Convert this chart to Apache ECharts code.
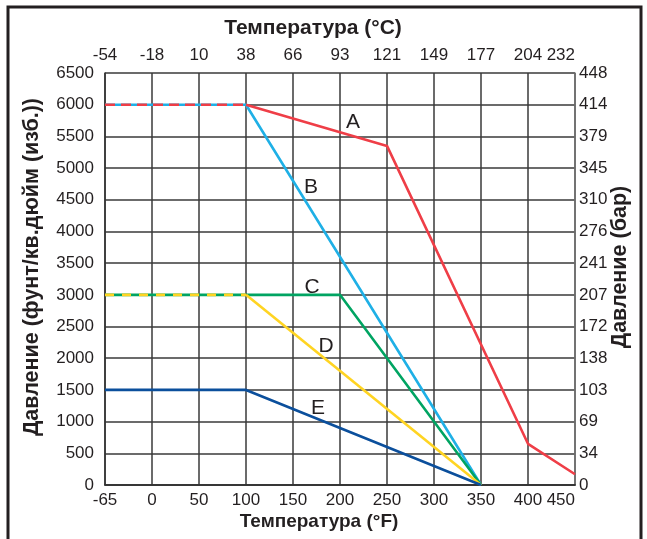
<!DOCTYPE html>
<html>
<head>
<meta charset="utf-8">
<script src="https://cdn.jsdelivr.net/npm/echarts@6/dist/echarts.min.js"></script>
<style>
html,body{margin:0;padding:0;background:#fff;}
#chart{width:647px;height:539px;}
</style>
</head>
<body>
<div id="chart"></div>
<script>
// Tick labels
const fahrenheit = ['-65','0','50','100','150','200','250','300','350','400','450'];
const celsius = ['-54','-18','10','38','66','93','121','149','177','204','232'];
const barLabels = ['0','34','69','103','138','172','207','241','276','310','345','379','414','448'];

// Series values: [°F category, psi]
const seriesA = [['-65',6000],['100',6000],['250',5350],['400',650],['450',170]];
const seriesB = [['-65',6000],['100',6000],['350',0]];
const seriesC = [['-65',3000],['200',3000],['350',0]];
const seriesD = [['-65',3000],['100',3000],['350',0]];
const seriesE = [['-65',1500],['100',1500],['350',0]];
const curveNames = ['A','B','C','D','E'];

const colors = {A:'#ef3e47', B:'#1fb0e6', C:'#00a462', D:'#ffd422', E:'#0b4f9c'};
const txt = '#231f20';
const font = 'Liberation Sans, Arial, sans-serif';

function lineSeries(name, data, color, type, z){
  return {
    name:name, type:'line', data:data, xAxisIndex:0, yAxisIndex:0,
    symbol:'none', showSymbol:false, animation:false,
    lineStyle:{color:color, width:2.6, type:type||'solid'},
    emphasis:{disabled:true}, z:z||3
  };
}

const chart = echarts.init(document.getElementById('chart'), null, {renderer:'canvas'});
const option = {
  animation:false,
  grid:{left:105, right:72, top:73, bottom:54, containLabel:false},
  xAxis:[
    {type:'category', data:fahrenheit, boundaryGap:false, position:'bottom',
     axisLine:{show:true, lineStyle:{color:'#333', width:1.5}}, axisTick:{show:false},
     axisLabel:{fontSize:17, color:txt, fontFamily:font, margin:7, alignMaxLabel:'right'},
     splitLine:{show:true, lineStyle:{color:'#3a3a3a', width:1.5}}},
    {type:'category', data:celsius, boundaryGap:false, position:'top',
     axisLine:{show:true, lineStyle:{color:'#333', width:1.5}}, axisTick:{show:false},
     axisLabel:{fontSize:17, color:txt, fontFamily:font, margin:9, alignMaxLabel:'right'},
     splitLine:{show:false}}
  ],
  yAxis:[
    {type:'value', min:0, max:6500, interval:500, position:'left',
     axisLine:{show:true, lineStyle:{color:'#333', width:1.5}}, axisTick:{show:false},
     axisLabel:{fontSize:17, color:txt, fontFamily:font, margin:11, formatter:(v)=>String(v)},
     splitLine:{show:true, lineStyle:{color:'#3a3a3a', width:1.5}}},
    {type:'value', min:0, max:6500, interval:500, position:'right',
     axisLine:{show:true, lineStyle:{color:'#777', width:1.5}}, axisTick:{show:false},
     axisLabel:{fontSize:17, color:txt, fontFamily:font, margin:4,
       formatter:(v)=>barLabels[Math.round(v/500)]},
     splitLine:{show:false}}
  ],
  series:[
    lineSeries('B', seriesB, colors.B),
    lineSeries('C', seriesC, colors.C),
    lineSeries('D', seriesD.slice(1), colors.D),
    lineSeries('E', seriesE, colors.E),
    lineSeries('A', seriesA.slice(1), colors.A),
    lineSeries('A-dash', seriesA.slice(0,2), colors.A, [10,6], 4),
    lineSeries('D-dash', seriesD.slice(0,2), colors.D, [9,8], 4)
  ],
  graphic:[
    {type:'rect', shape:{x:8, y:7, width:633, height:560}, style:{fill:'none', stroke:'#231f20', lineWidth:3}, z:10},
    {type:'text', x:313, y:28, style:{text:'Температура (°C)', font:'bold 21px '+font, fill:txt, textAlign:'center', textVerticalAlign:'middle'}},
    {type:'text', x:319, y:522, style:{text:'Температура (°F)', font:'bold 19px '+font, fill:txt, textAlign:'center', textVerticalAlign:'middle'}},
    {type:'text', x:32, y:267, rotation:Math.PI/2, style:{text:'Давление (фунт/кв.дюйм (изб.))', font:'bold 21.5px '+font, fill:txt, textAlign:'center', textVerticalAlign:'middle'}},
    {type:'text', x:620, y:267, rotation:Math.PI/2, style:{text:'Давление (бар)', font:'bold 21.5px '+font, fill:txt, textAlign:'center', textVerticalAlign:'middle'}}
  ]
};
chart.setOption(option);

// Curve letters, anchored to a data point of each curve plus a pixel offset
const anchors = [
  {name:'A', pt:seriesA[2], off:[-34,-24]},
  {name:'B', pt:seriesB[1], off:[65,83]},
  {name:'C', pt:seriesC[1], off:[-28,-8]},
  {name:'D', pt:seriesD[1], off:[80,51]},
  {name:'E', pt:seriesE[1], off:[72,18]}
];
const letterGraphics = anchors.map(a=>{
  const p = chart.convertToPixel({xAxisIndex:0, yAxisIndex:0}, a.pt);
  return {type:'text', x:p[0]+a.off[0], y:p[1]+a.off[1], z:5,
    style:{text:a.name, font:'21px '+font, fill:txt, textAlign:'center', textVerticalAlign:'middle'}};
});
chart.setOption({graphic: option.graphic.concat(letterGraphics)});
</script>
</body>
</html>
